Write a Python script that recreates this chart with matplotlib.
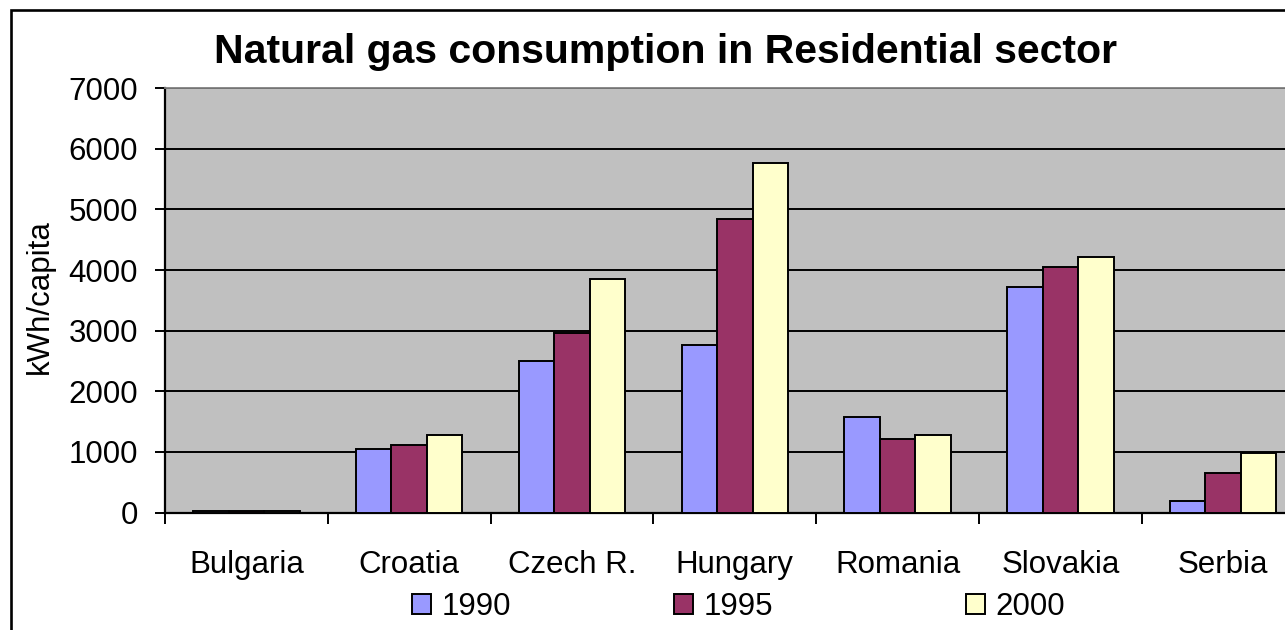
import numpy as np
import matplotlib
matplotlib.use("Agg")
import matplotlib.pyplot as plt
from matplotlib.patches import Patch, Rectangle

# data (kWh per capita)
countries = ["Bulgaria", "Croatia", "Czech R.", "Hungary", "Romania", "Slovakia", "Serbia"]
years = ["1990", "1995", "2000"]
gas_1990 = [25, 1050, 2505, 2765, 1575, 3720, 195]
gas_1995 = [25, 1120, 2965, 4845, 1215, 4050, 655]
gas_2000 = [25, 1285, 3860, 5765, 1280, 4220, 975]
yticks = [0, 1000, 2000, 3000, 4000, 5000, 6000, 7000]

colors = ["#9999FF", "#993366", "#FFFFCC"]

plt.rcParams["font.family"] = ["Liberation Sans", "DejaVu Sans"]

W, H = 1285, 630
fig = plt.figure(figsize=(W / 100, H / 100), dpi=100)

# plot area extends past the right edge of the picture, as in the reference
left, right, bottom, top = 165, 1304.6, 512.5, 88.3
ax = fig.add_axes([left / W, 1 - bottom / H, (right - left) / W, (bottom - top) / H])
ax.set_facecolor("#C0C0C0")

x = np.arange(len(countries)) + 0.5
bw = 0.218
for i, (vals, c) in enumerate(zip([gas_1990, gas_1995, gas_2000], colors)):
    ax.bar(x + (i - 1) * bw, vals, width=bw, color=c, edgecolor="black",
           linewidth=1.4, zorder=3)

ax.set_xlim(0, len(countries))
ax.set_ylim(0, 7000)
ax.set_yticks(yticks)
ax.yaxis.grid(True, color="black", linewidth=1.4, zorder=1)
ax.set_axisbelow(True)

# category boundaries get tick marks, names sit at the centres
ax.set_xticks(np.arange(len(countries) + 1))
ax.set_xticklabels([])
ax.set_xticks(x, minor=True)
ax.set_xticklabels(countries, minor=True, fontsize=22.5)
ax.tick_params(axis="x", which="major", direction="out", length=8, width=1.4)
ax.tick_params(axis="x", which="minor", length=0, pad=27)
ax.tick_params(axis="y", direction="out", length=7.5, width=1.4, labelsize=22.5, pad=12)

for s in ["left", "bottom"]:
    ax.spines[s].set_color("black")
    ax.spines[s].set_linewidth(1.6)
ax.spines["top"].set_color("#808080")
ax.spines["top"].set_linewidth(1.3)
ax.spines["right"].set_visible(False)

fig.text(665.5 / W, 1 - 63 / H, "Natural gas consumption in Residential sector",
         ha="center", va="baseline", fontsize=29.5, fontweight="bold")
fig.text(40 / W, 1 - 297 / H, "kWh/capita", rotation=90, ha="center",
         va="center", fontsize=22.5)

# legend entries sit at uneven spacing in the reference, so place each one
legend_x = [412, 674, 966]
for c, yr, lx in zip(colors, years, legend_x):
    h = Patch(facecolor=c, edgecolor="black", linewidth=1.4)
    fig.legend([h], [yr], loc="center left", bbox_to_anchor=(lx / W, 1 - 607 / H),
               frameon=False, fontsize=22.5, handlelength=0.6, handleheight=0.6,
               handletextpad=0.35, borderpad=0, borderaxespad=0)

# outer chart border (clipped by the picture on the right and bottom)
fig.patches.append(Rectangle((11 / W, -0.2), 2.0, 1.2 - 10 / H,
                             transform=fig.transFigure, fill=False,
                             edgecolor="black", linewidth=1.9))

fig.savefig("out.png", dpi=100)
